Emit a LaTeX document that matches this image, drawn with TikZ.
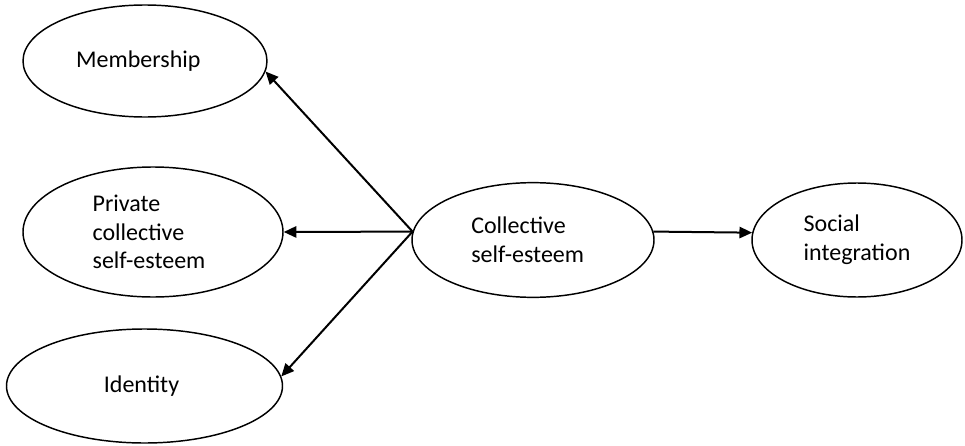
\documentclass[tikz,border=0pt]{standalone}
\usepackage{fontspec}
\setmainfont{Carlito}
\usetikzlibrary{shapes.geometric,arrows.meta}
\begin{document}
\begin{tikzpicture}[x=0.75pt,y=-0.75pt,
  ell/.style={ellipse,draw,line width=1.1pt,inner sep=0pt,align=left,
    font=\fontsize{18}{21.5}\selectfont},
  conn/.style={line width=1.5pt,-{Triangle[length=9.5pt,width=8.5pt]}}]
\useasboundingbox (0,0) rectangle (965,446);
\node[ell,minimum width=183pt,minimum height=84pt] (M) at (145,61) {Membership\hspace*{10pt}};
\node[ell,minimum width=195pt,minimum height=97.5pt] (P) at (153,232) {Private\\collective\\self-esteem\hspace*{6pt}};
\node[ell,minimum width=207pt,minimum height=85.5pt] (I) at (144.5,386) {Identity\hspace*{4.5pt}};
\node[ell,minimum width=181.5pt,minimum height=86pt] (C) at (533,240) {Collective\\self-esteem\hspace*{8pt}};
\node[ell,minimum width=157.5pt,minimum height=85.5pt] (S) at (857,240) {Social\\integration};
\draw[conn] (C.176) -- (M.-5);
\draw[conn] (C.176) -- (P.east);
\draw[conn] (C.176) -- (I.4);
\draw[conn] (C.4) -- (S.176);
\end{tikzpicture}
\end{document}
